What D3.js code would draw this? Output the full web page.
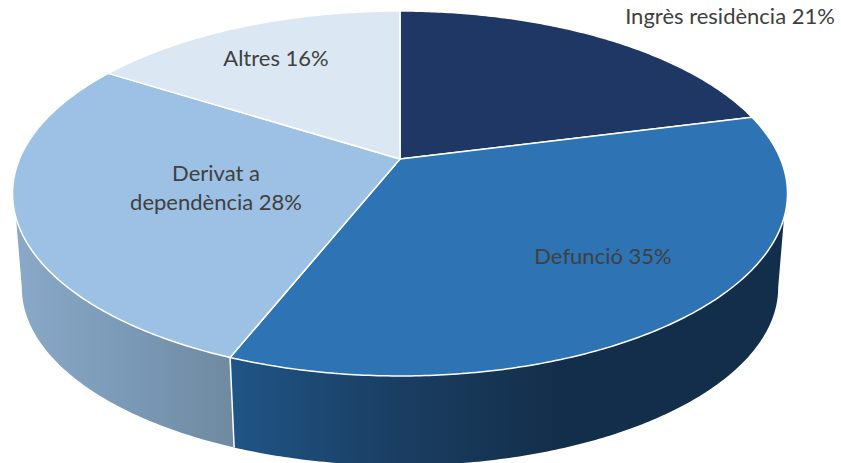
<!DOCTYPE html>
<html>
<head>
<meta charset="utf-8">
<script src="https://cdn.jsdelivr.net/npm/d3@7"></script>
<style>
  html, body { margin: 0; padding: 0; background: #fff; overflow: hidden; }
  text { font-family: Lato, "Open Sans", sans-serif; fill: #404040; }
</style>
</head>
<body>
<svg id="chart" width="841" height="463"></svg>
<script>
// data
const categories = ['Ingrès residència', 'Defunció', 'Derivat a dependència', 'Altres'];
const values = [21, 35, 28, 16];
const topColors = ['#1e3764', '#2e73b3', '#9cc1e4', '#dce7f4'];

const width = 841, height = 463;
const svg = d3.select('#chart');

// the pie is a tilted disc, so the angles go through a perspective projection
const cx = 400, apexY = 159;
const persp = 0.189;     // how much the far edge shrinks
const radiusX = 380.5, radiusY = 145.9;
const shrink = 0.976;    // bottom disc vs top disc
const vanishY = 4107;    // the vertical edges meet down here

function topPoint(a) {
  const u = Math.sin(a), v = Math.cos(a), w = 1 + persp * v;
  return [cx + radiusX * u / w, (apexY - radiusY * v) / w];
}
function bottomPoint(a) {
  const p = topPoint(a);
  return [cx + shrink * (p[0] - cx), vanishY + shrink * (p[1] - vanishY)];
}

const line = d3.line();
function sweep(a0, a1) {
  const n = Math.max(2, Math.ceil(Math.abs(a1 - a0) / 0.01));
  return d3.range(n + 1).map(i => a0 + (a1 - a0) * i / n);
}

const arcs = d3.pie().sort(null)(values);

// ---- gradients for the wall
const defs = svg.append('defs');
function wallGradient(id, x1, x2, stops) {
  const g = defs.append('linearGradient').attr('id', id)
    .attr('gradientUnits', 'userSpaceOnUse')
    .attr('x1', x1).attr('x2', x2).attr('y1', 0).attr('y2', 0);
  stops.forEach(s => g.append('stop').attr('offset', s[0]).attr('stop-color', s[1]));
}
wallGradient('wall1', 235, 560, [[0, '#1f5485'], [0.5, '#1a3e62'], [1, '#132e4a']]);
wallGradient('wall2', 15, 232, [[0, '#8aa9c8'], [0.5, '#7b9ab8'], [1, '#6f8aa1']]);

// ---- wall, only the front part of the disc shows
const bottomEdge = Math.acos(-persp);   // where the bottom disc is widest
const topEdge = Math.acos(-0.315);      // where the wall leaves the top disc
const clampTo = (a, lim) => Math.max(lim, Math.min(2 * Math.PI - lim, a));

const walls = [{ arc: arcs[1], fill: 'url(#wall1)' }, { arc: arcs[2], fill: 'url(#wall2)' }];
svg.append('g').selectAll('path.wall')
  .data(walls)
  .join('path')
  .classed('wall', true)
  .attr('d', d => {
    const upper = sweep(clampTo(d.arc.startAngle, topEdge), clampTo(d.arc.endAngle, topEdge)).map(topPoint);
    const lower = sweep(clampTo(d.arc.endAngle, bottomEdge), clampTo(d.arc.startAngle, bottomEdge)).map(bottomPoint);
    return line(upper.concat(lower)) + 'Z';
  })
  .attr('fill', d => d.fill);

// white seam between the two wall pieces
svg.append('line')
  .attr('x1', topPoint(arcs[1].endAngle)[0]).attr('y1', topPoint(arcs[1].endAngle)[1])
  .attr('x2', bottomPoint(arcs[1].endAngle)[0]).attr('y2', bottomPoint(arcs[1].endAngle)[1])
  .attr('stroke', '#fff').attr('stroke-width', 1.5);

// ---- top face
svg.append('g').selectAll('path.slice')
  .data(arcs)
  .join('path')
  .classed('slice', true)
  .attr('d', d => line([[cx, apexY]].concat(sweep(d.startAngle, d.endAngle).map(topPoint))) + 'Z')
  .attr('fill', (d, i) => topColors[i])
  .attr('stroke', '#fff')
  .attr('stroke-width', 1.5)
  .attr('stroke-linejoin', 'round');

// ---- labels
const labelSpots = [[730, 16], [603, 256], [216, 187], [276, 58]];
const labelLines = categories.map((c, i) => {
  const txt = c + ' ' + values[i] + '%';
  return c === 'Derivat a dependència' ? ['Derivat a', 'dependència ' + values[i] + '%'] : [txt];
});

const labels = svg.append('g').selectAll('text')
  .data(labelLines)
  .join('text')
  .attr('font-size', 22)
  .attr('text-anchor', 'middle');

labels.each(function (d, i) {
  const sel = d3.select(this);
  d.forEach((t, j) => {
    sel.append('tspan')
      .attr('x', labelSpots[i][0])
      .attr('y', labelSpots[i][1] + 8 + (j - (d.length - 1) / 2) * 29)
      .text(t);
  });
});
</script>
</body>
</html>
